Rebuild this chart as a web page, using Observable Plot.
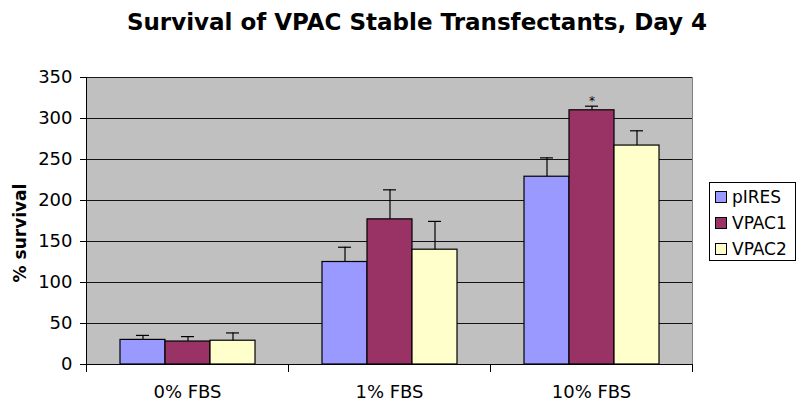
<!DOCTYPE html>
<html><head><meta charset="utf-8">
<script src="https://cdn.jsdelivr.net/npm/d3@7"></script>
<script src="https://cdn.jsdelivr.net/npm/@observablehq/plot@0.6"></script>
<style>
body{margin:0;background:#fff;font-family:"DejaVu Sans",Verdana,sans-serif;color:#000;}
#wrap{position:relative;width:797px;height:403px;overflow:hidden;}
#title{position:absolute;top:9px;left:0;width:834px;text-align:center;font-weight:bold;font-size:23px;}
#chart{position:absolute;left:0;top:55px;}
#ylabel{position:absolute;left:20px;top:233px;transform:translate(-50%,-50%) rotate(-90deg);font-weight:bold;font-size:17px;white-space:nowrap;}
#legend{position:absolute;left:709px;top:182px;width:87px;height:79px;border:1px solid #000;background:#fff;box-sizing:border-box;padding-top:1px;}
.item{display:flex;align-items:center;height:26px;font-size:17px;}
.sw{width:10px;height:10px;border:1px solid #000;margin-left:5px;margin-right:5px;flex:none;}
</style></head>
<body>
<div id="wrap">
  <div id="title">Survival of VPAC Stable Transfectants, Day 4</div>
  <div id="ylabel">% survival</div>
  <div id="chart"></div>
  <div id="legend"></div>
</div>
<script>
const categories = ["0% FBS", "1% FBS", "10% FBS"];
const series = ["pIRES", "VPAC1", "VPAC2"];
const pIRES = [30, 125, 229];
const VPAC1 = [28, 177, 310];
const VPAC2 = [29, 140, 267];
const pIRESErr = [5.5, 18, 23];
const VPAC1Err = [6, 36, 5];
const VPAC2Err = [9.5, 34.5, 18];
const yTicks = [0, 50, 100, 150, 200, 250, 300, 350];
const colors = ["#9999FF", "#993366", "#FFFFCC"];
const marks = [{category: "10% FBS", series: "VPAC1", label: "*"}];

const values = [pIRES, VPAC1, VPAC2];
const errs = [pIRESErr, VPAC1Err, VPAC2Err];
const rows = categories.flatMap((c, i) => series.map((s, j) => ({category: c, series: s, value: values[j][i], err: errs[j][i]})));
const sig = marks.map(m => {
  const r = rows.find(d => d.category === m.category && d.series === m.series);
  return {...m, top: r.value + r.err};
});

const H = 348, MT = 22, MB = 39;
const plotH = H - MT - MB;

const plot = Plot.plot({
  width: 797, height: H,
  marginTop: MT, marginBottom: MB, marginLeft: 86, marginRight: 105,
  style: {fontFamily: "DejaVu Sans, Verdana, sans-serif", fontSize: "18px", color: "#000", background: "transparent", overflow: "visible"},
  fx: {domain: categories, padding: 0, label: null},
  x: {domain: series, paddingInner: 0, paddingOuter: 0.73, axis: null},
  y: {domain: [0, 350], axis: null},
  color: {domain: series, range: colors},
  marks: [
    Plot.frame({fill: "#c0c0c0", stroke: "none", shapeRendering: "crispEdges"}),
    Plot.ruleY(yTicks.slice(1), {stroke: "#000", strokeOpacity: 0.9}),
    Plot.frame({anchor: "right", facetAnchor: "right", stroke: "#808080"}),
    Plot.barY(rows, {fx: "category", x: "series", y: "value", fill: "series", stroke: "#000", strokeWidth: 1.2}),
    Plot.ruleX(rows, {fx: "category", x: "series", y1: "value", y2: d => d.value + d.err, stroke: "#000", strokeWidth: 1.2}),
    Plot.tickY(rows, {fx: "category", x: "series", y: d => d.value + d.err, stroke: "#000", strokeWidth: 1.2, insetLeft: 16, insetRight: 16}),
    Plot.text(sig, {fx: "category", x: "series", y: "top", text: "label", dy: -5, fontSize: 12}),
    Plot.ruleY([0], {stroke: "#000"}),
    Plot.frame({anchor: "left", facetAnchor: "left", stroke: "#000"}),
    Plot.frame({anchor: "left", insetTop: plotH, insetBottom: -7, stroke: "#000"}),
    Plot.frame({anchor: "right", facetAnchor: "right", insetTop: plotH, insetBottom: -7, stroke: "#000"}),
    Plot.axisY({ticks: yTicks, tickSize: 6, tickPadding: 8, label: null, fontSize: 18}),
    Plot.axisFx({anchor: "bottom", tickSize: 0, tickPadding: 21, label: null, fontSize: 18})
  ]
});
document.getElementById("chart").append(plot);

const legend = document.getElementById("legend");
series.forEach((s, i) => {
  const item = document.createElement("div");
  item.className = "item";
  const sw = document.createElement("div");
  sw.className = "sw";
  sw.style.background = plot.scale("color").apply(s);
  const t = document.createElement("span");
  t.textContent = s;
  item.append(sw, t);
  legend.append(item);
});
</script>
</body></html>
